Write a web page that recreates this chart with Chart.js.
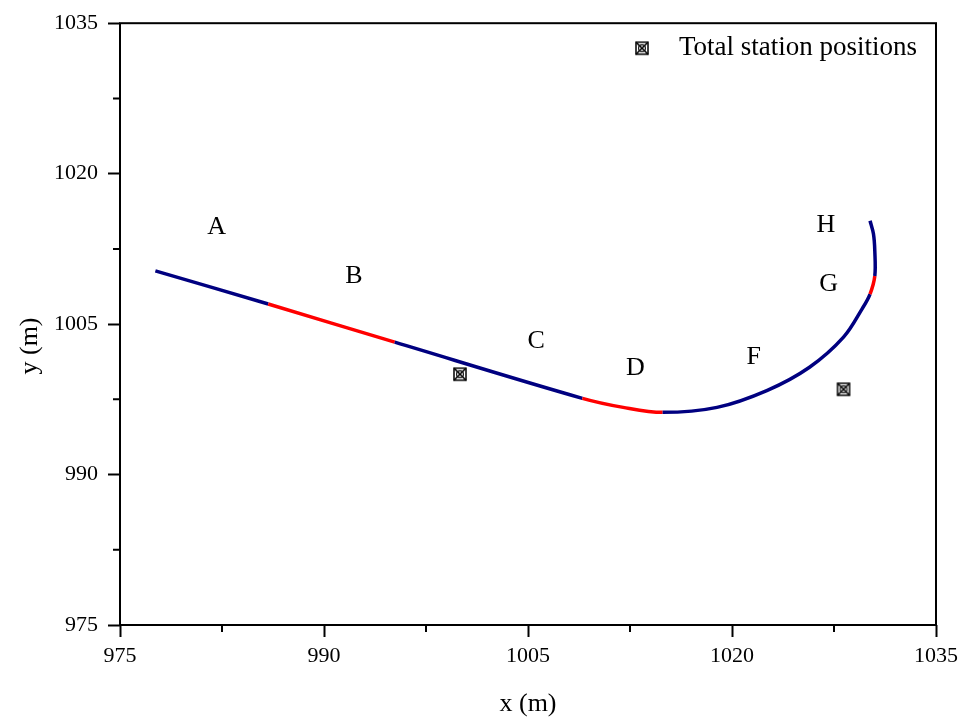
<!DOCTYPE html>
<html>
<head>
<meta charset="utf-8">
<script src="https://cdn.jsdelivr.net/npm/chart.js@4.4.1/dist/chart.umd.min.js"></script>
<style>
  html, body { margin: 0; padding: 0; background: #fff; }
  #wrap { width: 964px; height: 722px; }
</style>
</head>
<body>
<div id="wrap"><canvas id="chart" width="964" height="722"></canvas></div>
<script>
// track centre line
const pathX = [977.6, 985.9, 995.2, 1009.0, 1012.0, 1014.9, 1018.9, 1022.6, 1025.7, 1028.2, 1029.6, 1030.15, 1030.5, 1030.5, 1030.4, 1030.15];
const pathY = [1010.3, 1007.0, 1003.2, 997.6, 996.7, 996.2, 996.7, 998.4, 1000.7, 1003.7, 1006.6, 1008.0, 1009.8, 1012.3, 1014.0, 1015.3];
// 1 = highlighted section starting at that point
const pathHighlight = [0, 1, 0, 1, 1, 0, 0, 0, 0, 0, 0, 1, 0, 0, 0];

// total station positions
const stationX = [1000.0, 1028.2];
const stationY = [1000.0, 998.5];

// section letters
const sectionNames = ['A', 'B', 'C', 'D', 'F', 'G', 'H'];
const sectionX = [982.1, 992.2, 1005.6, 1012.9, 1021.6, 1027.1, 1026.9];
const sectionY = [1014.7, 1009.8, 1003.3, 1000.6, 1001.7, 1009.0, 1014.9];

const axisMin = 975, axisMax = 1035, axisStep = 7.5, labelStep = 15;

const SERIF = '"Liberation Serif", "DejaVu Serif", serif';
const NAVY = '#000080';
const RED = '#ff0000';

// crossed box marker
function makeMarker() {
  const c = document.createElement('canvas');
  c.width = 16; c.height = 16;
  const g = c.getContext('2d');
  g.strokeStyle = '#000';
  g.lineWidth = 1.5;
  g.strokeRect(2, 2, 12, 12);
  g.beginPath();
  g.moveTo(2, 2); g.lineTo(14, 14);
  g.moveTo(14, 2); g.lineTo(2, 14);
  g.stroke();
  g.lineWidth = 1.1;
  g.beginPath();
  g.arc(8, 8, 3.4, 0, Math.PI * 2);
  g.stroke();
  return c;
}
const marker = makeMarker();

const pathData = pathX.map((x, i) => ({ x: x, y: pathY[i] }));
const stationData = stationX.map((x, i) => ({ x: x, y: stationY[i] }));

// frame, minor ticks, letters, y title, legend entry
const extras = {
  id: 'extras',
  afterDraw(chart) {
    const { ctx, chartArea: a, scales } = chart;
    ctx.save();
    ctx.strokeStyle = '#000';
    ctx.lineWidth = 2;
    ctx.strokeRect(a.left, a.top, a.right - a.left, a.bottom - a.top);

    // minor ticks
    ctx.beginPath();
    scales.x.ticks.forEach(t => {
      if (t.value % labelStep !== 0) {
        const px = scales.x.getPixelForValue(t.value);
        ctx.moveTo(px, a.bottom); ctx.lineTo(px, a.bottom + 7);
      }
    });
    scales.y.ticks.forEach(t => {
      if (t.value % labelStep !== 0) {
        const py = scales.y.getPixelForValue(t.value);
        ctx.moveTo(a.left, py); ctx.lineTo(a.left - 7, py);
      }
    });
    ctx.stroke();

    ctx.fillStyle = '#000';
    ctx.font = '26px ' + SERIF;
    ctx.textAlign = 'center';
    ctx.textBaseline = 'middle';
    sectionNames.forEach((s, i) => {
      ctx.fillText(s, scales.x.getPixelForValue(sectionX[i]), scales.y.getPixelForValue(sectionY[i]));
    });

    // y axis title, sits a bit below the middle in the original
    ctx.save();
    ctx.translate(30, 346);
    ctx.rotate(-Math.PI / 2);
    ctx.fillText('y (m)', 0, 0);
    ctx.restore();

    // legend entry, top right inside the frame
    const ly = a.top + 25;
    ctx.drawImage(marker, a.right - 294 - 8, ly - 8);
    ctx.font = '27px ' + SERIF;
    ctx.textAlign = 'right';
    ctx.fillText(chart.data.datasets[1].label, a.right - 19, ly);
    ctx.restore();
  }
};

function axis(title, fixSize) {
  return {
    type: 'linear',
    min: axisMin,
    max: axisMax,
    border: { display: false },
    grid: {
      drawOnChartArea: false,
      drawTicks: true,
      tickLength: 12,
      tickWidth: 2,
      tickColor: ctx => (ctx.tick && ctx.tick.value % labelStep === 0) ? '#000' : 'rgba(0,0,0,0)'
    },
    ticks: {
      stepSize: axisStep,
      autoSkip: false,
      maxRotation: 0,
      color: '#000',
      padding: title ? 6 : 10,
      font: { family: SERIF, size: 22 },
      callback: v => (v % labelStep === 0 ? String(v) : '')
    },
    title: {
      display: !!title,
      text: title,
      color: '#000',
      font: { family: SERIF, size: 26 },
      padding: { top: 14, bottom: 2 }
    },
    afterFit: fixSize
  };
}

new Chart(document.getElementById('chart'), {
  type: 'scatter',
  data: {
    datasets: [
      {
        label: 'track',
        data: pathData,
        showLine: true,
        tension: 0.35,
        borderWidth: 3.5,
        borderColor: NAVY,
        pointRadius: 0,
        segment: {
          borderColor: ctx => (pathHighlight[ctx.p0DataIndex] ? RED : NAVY)
        }
      },
      {
        label: 'Total station positions',
        data: stationData,
        pointStyle: marker,
        pointRadius: 7,
        showLine: false
      }
    ]
  },
  options: {
    responsive: false,
    animation: false,
    layout: { padding: { top: 22, right: 28, left: 0, bottom: 0 } },
    scales: {
      x: axis('x (m)', s => { s.height = 97; }),
      y: axis('', s => { s.width = 120; })
    },
    plugins: {
      tooltip: { enabled: false },
      legend: { display: false }
    }
  },
  plugins: [extras]
});
</script>
</body>
</html>
